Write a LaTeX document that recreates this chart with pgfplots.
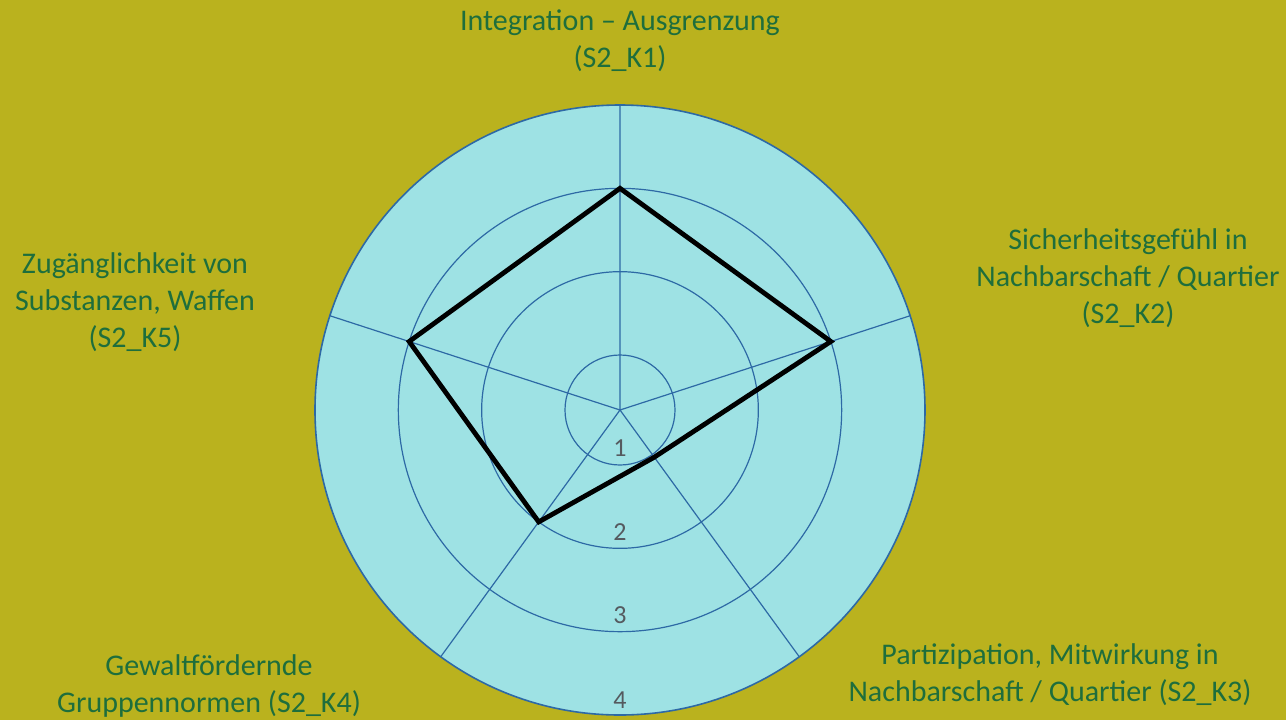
\documentclass[border=0pt]{standalone}
\usepackage{fontspec}
\setmainfont{Carlito}
\usepackage{pgfplots}
\pgfplotsset{compat=1.18}
\usepgfplotslibrary{polar}
\definecolor{bg}{RGB}{186,178,30}
\definecolor{disc}{RGB}{158,226,228}
\definecolor{ringblue}{RGB}{45,105,165}
\definecolor{labgreen}{RGB}{30,110,60}
\definecolor{numgray}{RGB}{85,90,95}
\begin{document}
\begin{tikzpicture}[x=1pt,y=1pt]
\useasboundingbox (0,0) rectangle (643,360);
\fill[bg] (0,0) rectangle (643,360);
\begin{polaraxis}[
  at={(310pt,155pt)}, anchor=origin,
  width=305pt, height=305pt, scale only axis,
  ymin=0, ymax=3.66,
  xtick={18,90,162,234,306}, xticklabels={},
  ytick={0.66,1.66,2.66}, yticklabels={},
  grid=both,
  major grid style={draw=ringblue, line width=0.6pt},
  x axis line style={draw=ringblue, line width=0.8pt},
  y axis line style={draw=none},
  axis background/.style={fill=disc},
  tick style={draw=none},
  y filter/.expression={y-0.34},
]
% values on the 1..4 scale, order K1, K2, K3, K4, K5
\addplot[black, line width=2.4pt, line join=miter, mark=none]
  coordinates {(90,3.0) (18,3.0) (306,1.04) (234,2.0) (162,3.0)} -- cycle;
\node[text=numgray, font=\fontsize{13}{14}\selectfont] at (axis cs:270,0.46) {1};
\node[text=numgray, font=\fontsize{13}{14}\selectfont] at (axis cs:270,1.47) {2};
\node[text=numgray, font=\fontsize{13}{14}\selectfont] at (axis cs:270,2.46) {3};
\node[text=numgray, font=\fontsize{13}{14}\selectfont] at (axis cs:270,3.48) {4};
\end{polaraxis}
\begin{scope}[every node/.style={text=labgreen, align=center, font=\fontsize{15}{18.5}\selectfont}]
\node at (310,339.5) {Integration – Ausgrenzung\\(S2\_K1)};
\node at (564,221) {Sicherheitsgefühl in\\Nachbarschaft / Quartier\\(S2\_K2)};
\node at (525,22.75) {Partizipation, Mitwirkung in\\Nachbarschaft / Quartier (S2\_K3)};
\node at (104.5,17.25) {Gewaltfördernde\\Gruppennormen (S2\_K4)};
\node at (67.5,209) {Zugänglichkeit von\\Substanzen, Waffen\\(S2\_K5)};
\end{scope}
\end{tikzpicture}
\end{document}
